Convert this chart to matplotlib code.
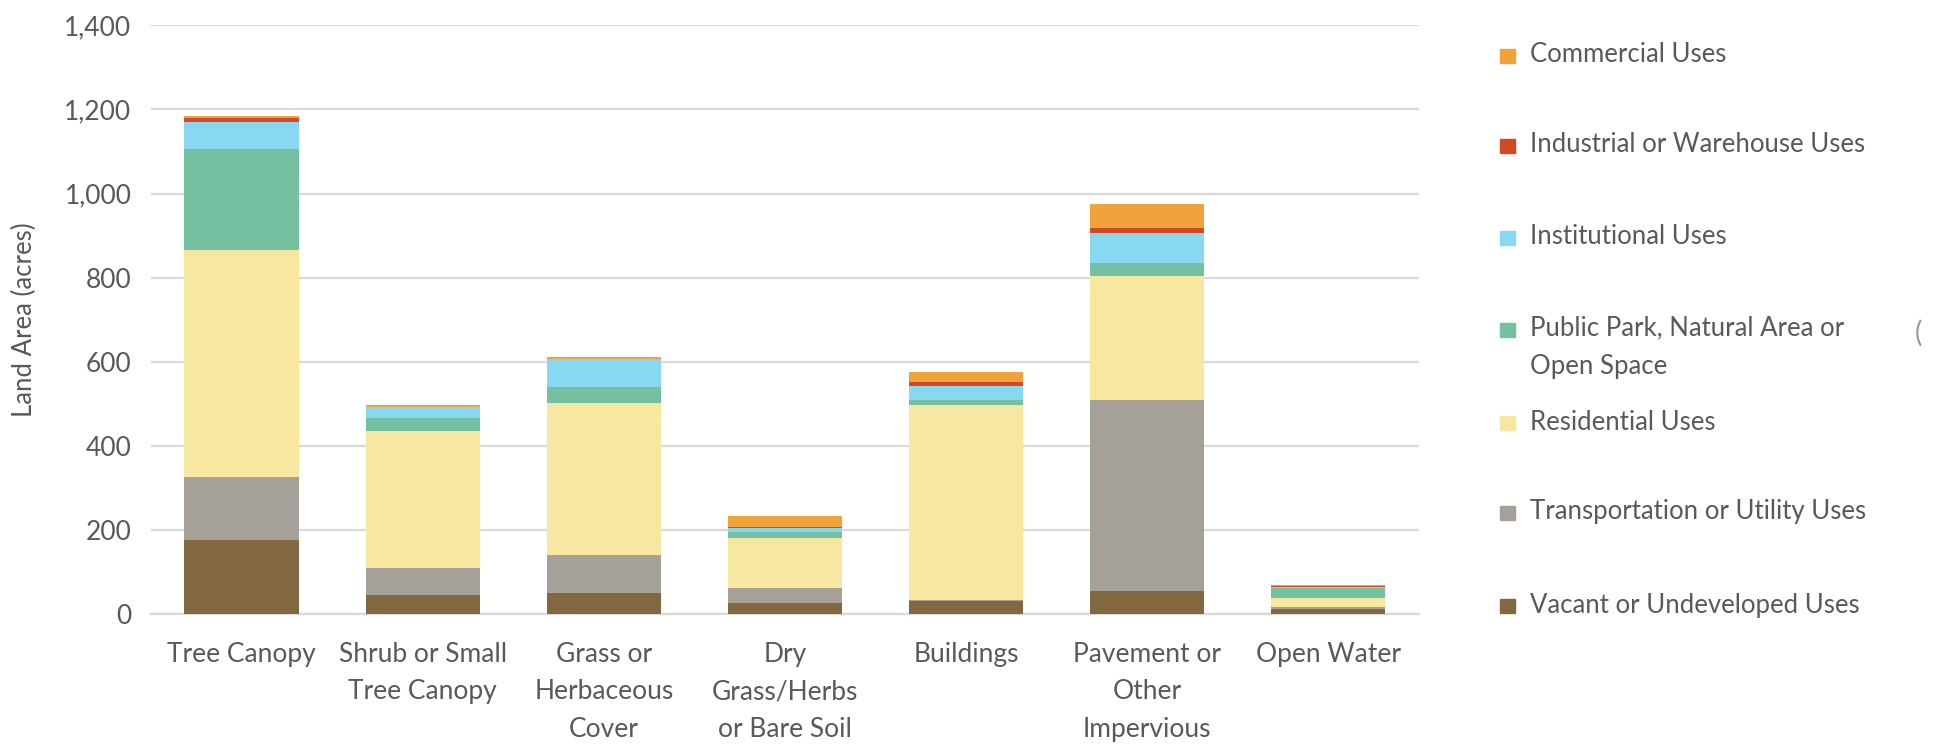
import numpy as np
import matplotlib
matplotlib.use("Agg")
from matplotlib import pyplot as plt
from matplotlib.patches import Rectangle
from matplotlib.ticker import FuncFormatter

plt.rcParams['font.family'] = ['Lato', 'DejaVu Sans']

# land cover classes (x axis)
categories = ["Tree Canopy", "Shrub or Small\nTree Canopy", "Grass or\nHerbaceous\nCover",
              "Dry\nGrass/Herbs\nor Bare Soil", "Buildings", "Pavement or\nOther\nImpervious",
              "Open Water"]

# acres per land use, stacked bottom -> top
vacant = [177, 45, 51, 26, 32, 55, 13]
transportation = [150, 64, 89, 35, 2, 454, 3]
residential = [538, 326, 363, 120, 462, 295, 22]
public_park = [241, 31, 36, 14, 13, 31, 24]
institutional = [65, 26, 67, 10, 34, 72, 3]
industrial = [8, 1, 1, 1, 8, 12, 1]
commercial = [5, 4, 5, 26, 24, 55, 4]

series_names = ["Vacant or Undeveloped Uses", "Transportation or Utility Uses", "Residential Uses",
                "Public Park, Natural Area or\nOpen Space", "Institutional Uses",
                "Industrial or Warehouse Uses", "Commercial Uses"]
series_values = [vacant, transportation, residential, public_park, institutional, industrial, commercial]
colors = ["#826841", "#a6a198", "#f8e7a0", "#74c0a0", "#89d8f2", "#d04a25", "#f0a33a"]

text_color = "#595959"
grid_color = "#d9d9d9"
W, H = 1940, 744

fig = plt.figure(figsize=(W / 100, H / 100), dpi=100)
ax = fig.add_axes([0.0778, 0.1747, 0.6536, 0.7913])

x = np.arange(len(categories))
bottom = np.zeros(len(categories))
for vals, col in zip(series_values, colors):
    ax.bar(x, vals, 0.63, bottom=bottom, color=col, edgecolor="none", zorder=3)
    bottom += np.array(vals)

ax.set_xlim(-0.5, len(categories) - 0.5)
ax.set_ylim(0, 1400)
ax.set_yticks(np.arange(0, 1401, 200))
ax.yaxis.set_major_formatter(FuncFormatter(lambda v, p: f"{int(v):,}"))
ax.set_xticks(x)
ax.set_xticklabels(categories, linespacing=1.62, va="top")
ax.tick_params(axis="both", length=0, labelsize=19, colors=text_color)
ax.tick_params(axis="x", pad=20)
ax.tick_params(axis="y", pad=14)
ax.grid(axis="y", color=grid_color, linewidth=1.6, zorder=0)
for s in ["top", "right", "left"]:
    ax.spines[s].set_visible(False)
ax.spines["bottom"].set_color(grid_color)
ax.spines["bottom"].set_linewidth(1.6)
ax.set_ylabel("Land Area (acres)", fontsize=18.5, color=text_color, labelpad=20)

# legend, drawn top -> bottom like the original
row_y = [56, 146, 238, 330, 423, 513, 606]
for yy, name, col in zip(row_y, series_names[::-1], colors[::-1]):
    fy = 1 - yy / H
    fig.patches.append(Rectangle((1500 / W, fy - 7 / H), 15 / W, 14 / H,
                                 transform=fig.transFigure, color=col, figure=fig))
    if "\n" in name:
        fig.text(1530 / W, fy + 15 / H, name, fontsize=18.5, color=text_color,
                 va="top", linespacing=1.7)
    else:
        fig.text(1530 / W, fy + 1 / H, name, fontsize=18.5, color=text_color, va="center")

fig.text(1915 / W, 1 - 333 / H, "(", fontsize=20, color="#999999", va="center")

fig.savefig("out.png", dpi=100)
